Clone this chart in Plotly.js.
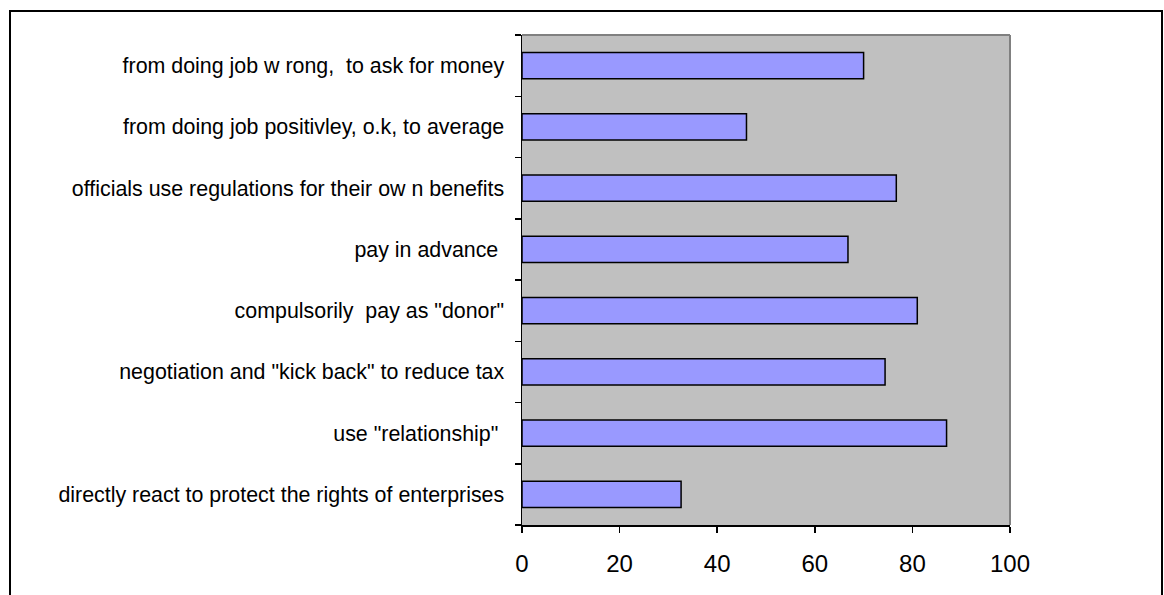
<!DOCTYPE html>
<html>
<head>
<meta charset="utf-8">
<script src="https://cdn.plot.ly/plotly-3.0.1.min.js"></script>
<style>
html,body{margin:0;padding:0;background:#fff;}
#wrap{position:relative;width:1164px;height:595px;overflow:hidden;}
#chart{width:1164px;height:595px;}
#frame{position:absolute;left:9px;top:10px;width:1154px;height:600px;border:2px solid #000;pointer-events:none;box-sizing:border-box;}
</style>
</head>
<body>
<div id="wrap"><div id="chart"></div><div id="frame"></div></div>
<script>
// Categories listed bottom to top
var categories = [
  'directly react to protect the rights of enterprises',
  'use "relationship" ',
  'negotiation and "kick back" to reduce tax',
  'compulsorily  pay as "donor"',
  'pay in advance ',
  'officials use regulations for their ow n benefits',
  'from doing job positivley, o.k, to average',
  'from doing job w rong,  to ask for money'
];
var values = [32.6, 87, 74.4, 81, 66.8, 76.7, 46, 70];
var xTicks = [0, 20, 40, 60, 80, 100];

var trace = {
  type: 'bar',
  orientation: 'h',
  y: categories,
  x: values,
  marker: {color: '#9999FF', line: {color: '#000000', width: 1.5}},
  hoverinfo: 'x+y'
};

var layout = {
  width: 1164, height: 595,
  margin: {l: 522, r: 154, t: 35, b: 70, pad: 0},
  paper_bgcolor: '#FFFFFF',
  plot_bgcolor: '#C0C0C0',
  showlegend: false,
  bargap: 0.575,
  font: {family: 'Liberation Sans, Arial, sans-serif', color: '#000'},
  xaxis: {
    range: [0, 100],
    tickvals: xTicks,
    ticktext: xTicks.map(String),
    showgrid: false, zeroline: false,
    showline: true, linecolor: '#000', linewidth: 1.5,
    ticks: 'outside', ticklen: 6, tickwidth: 1.5, tickcolor: '#000',
    ticklabelstandoff: 11,
    tickfont: {size: 24, family: 'Liberation Sans, Arial, sans-serif'},
    fixedrange: true
  },
  yaxis: {
    type: 'category',
    categoryorder: 'array', categoryarray: categories,
    tickson: 'boundaries',
    showgrid: false, zeroline: false,
    showline: true, linecolor: '#000', linewidth: 1.5,
    ticks: 'outside', ticklen: 6, tickwidth: 1.5, tickcolor: '#000',
    ticklabelstandoff: 12,
    tickfont: {size: 21.4, family: 'Liberation Sans, Arial, sans-serif'},
    fixedrange: true
  },
  shapes: [
    {type: 'line', xref: 'paper', yref: 'paper', x0: 0, x1: 1, y0: 1, y1: 1, line: {color: '#808080', width: 2}},
    {type: 'line', xref: 'paper', yref: 'paper', x0: 1, x1: 1, y0: 0, y1: 1, line: {color: '#808080', width: 2}}
  ]
};

Plotly.newPlot('chart', [trace], layout, {displayModeBar: false, staticPlot: true});
</script>
</body>
</html>
